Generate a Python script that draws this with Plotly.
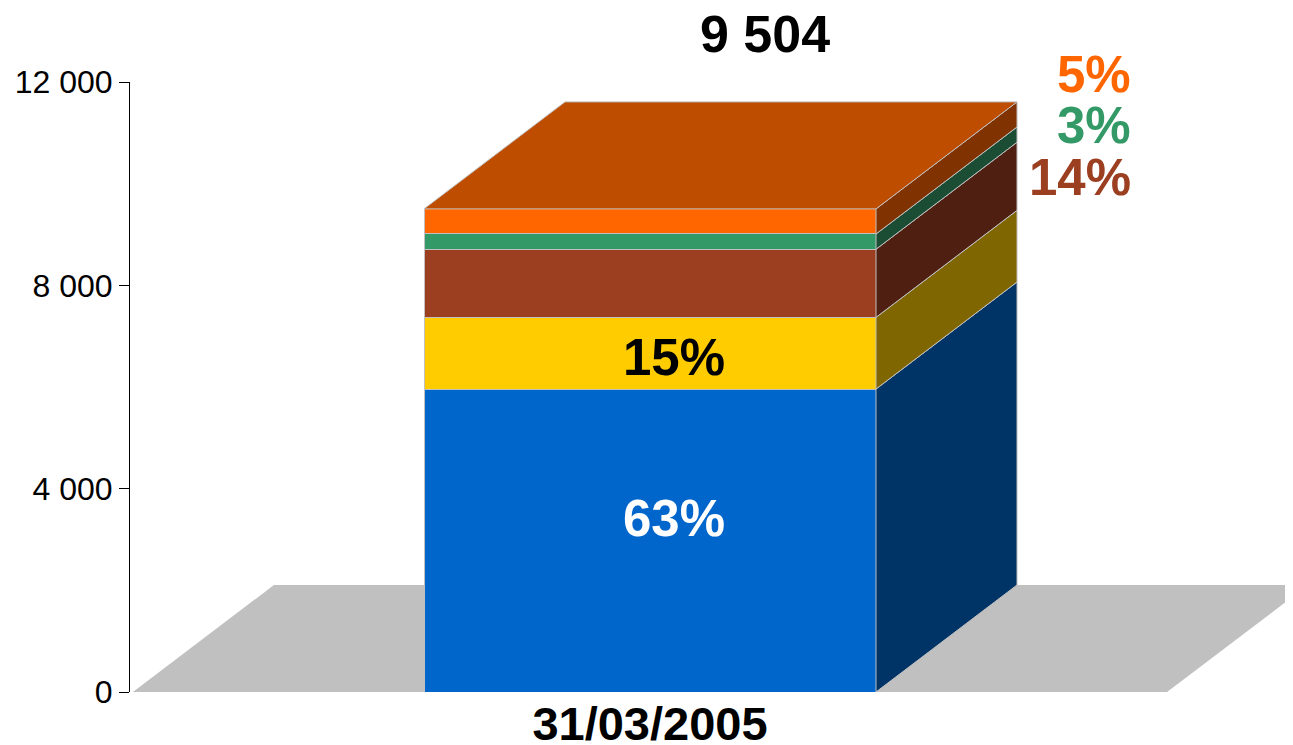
import plotly.graph_objects as go

# ---- data ----
category = ["31/03/2005"]
series_names = ["S1", "S2", "S3", "S4", "S5"]
values = [5960, 1410, 1340, 300, 494]
pct_labels = ["63%", "15%", "14%", "3%", "5%"]
total_label = "9 504"
y_tick_vals = [0, 4000, 8000, 12000]
y_tick_text = ["0", "4 000", "8 000", "12 000"]

# ---- style ----
front_colors = ["#0066CC", "#FFCC00", "#9C3F21", "#339966", "#FF6600"]
side_colors = ["#003366", "#806600", "#4F2012", "#1A4D33", "#803300"]
top_color = "#BF4D00"
edge = "#C0C0C0"
FONT = "Liberation Sans, Arial, sans-serif"
BAR_W = 1.0
DX = 0.312      # depth offset in x units
DY = 2105       # depth offset in y units
FLOOR_HALF = 1.144

fig = go.Figure()

# floor (background, below traces)
fig.add_shape(type="path", xref="x", yref="y", layer="below",
              path=f"M {-FLOOR_HALF},0 L {FLOOR_HALF},0 L {FLOOR_HALF+DX},{DY} L {-FLOOR_HALF+DX},{DY} Z",
              fillcolor="#C0C0C0", line=dict(width=0))

xc = 0
# front faces
for name, v, c in zip(series_names, values, front_colors):
    fig.add_trace(go.Bar(x=[xc], y=[v], name=name, width=BAR_W,
                         marker=dict(color=c, line=dict(color=edge, width=1)),
                         hoverinfo="skip", showlegend=False))

# side faces
base = 0
right = xc + BAR_W / 2
left = xc - BAR_W / 2
for v, c in zip(values, side_colors):
    b, t = base, base + v
    fig.add_trace(go.Scatter(
        x=[right, right + DX, right + DX, right, right],
        y=[b, b + DY, t + DY, t, b],
        fill="toself", fillcolor=c, mode="lines",
        line=dict(color=edge, width=1), hoverinfo="skip", showlegend=False))
    base = t

# top face
T = base
fig.add_trace(go.Scatter(
    x=[left, left + DX, right + DX, right, left],
    y=[T, T + DY, T + DY, T, T],
    fill="toself", fillcolor=top_color, mode="lines",
    line=dict(color=edge, width=1), hoverinfo="skip", showlegend=False))

# labels
LBL = 51
cum = [sum(values[:i]) for i in range(len(values))]
ann = []
ann.append(dict(x=xc + 0.254, xref="x", y=1.0, yref="paper", yanchor="middle", yshift=48,
                xanchor="center",
                text=f"<b>{total_label}</b>", showarrow=False,
                font=dict(family=FONT, size=52, color="black")))
ann.append(dict(x=xc + 0.053, y=cum[0] + values[0] / 2, yshift=22,
                text=f"<b>{pct_labels[0]}</b>", showarrow=False,
                font=dict(family=FONT, size=LBL, color="white")))
ann.append(dict(x=xc + 0.053, y=cum[1] + values[1] / 2, yshift=-4,
                text=f"<b>{pct_labels[1]}</b>", showarrow=False,
                font=dict(family=FONT, size=LBL, color="black")))
side_label_y = [None, None, 0.844, 0.9295, 1.013]
for i in [4, 3, 2]:
    ann.append(dict(x=1.068, xref="x", y=side_label_y[i], yref="paper",
                    xanchor="right", yanchor="middle",
                    text=f"<b>{pct_labels[i]}</b>", showarrow=False,
                    font=dict(family=FONT, size=LBL, color=front_colors[i])))

fig.update_layout(
    barmode="stack",
    width=1285, height=737,
    margin=dict(l=122, r=0, t=74, b=53),
    paper_bgcolor="white", plot_bgcolor="white",
    annotations=ann,
    showlegend=False,
    xaxis=dict(range=[-520 / 452, 643 / 452], tickvals=[xc],
               ticktext=[f"<b>{c}</b>" for c in category],
               showline=False, showgrid=False, zeroline=False, ticks="",
               automargin=False,
               tickfont=dict(family=FONT, size=47, color="black")),
    yaxis=dict(range=[0, 12000], tickvals=y_tick_vals, ticktext=y_tick_text,
               showline=True, linecolor="black", linewidth=1,
               ticks="outside", ticklen=10, tickcolor="black",
               showgrid=False, zeroline=False, automargin=False,
               tickfont=dict(family=FONT, size=32, color="black")),
)

fig.write_html("out.html")
